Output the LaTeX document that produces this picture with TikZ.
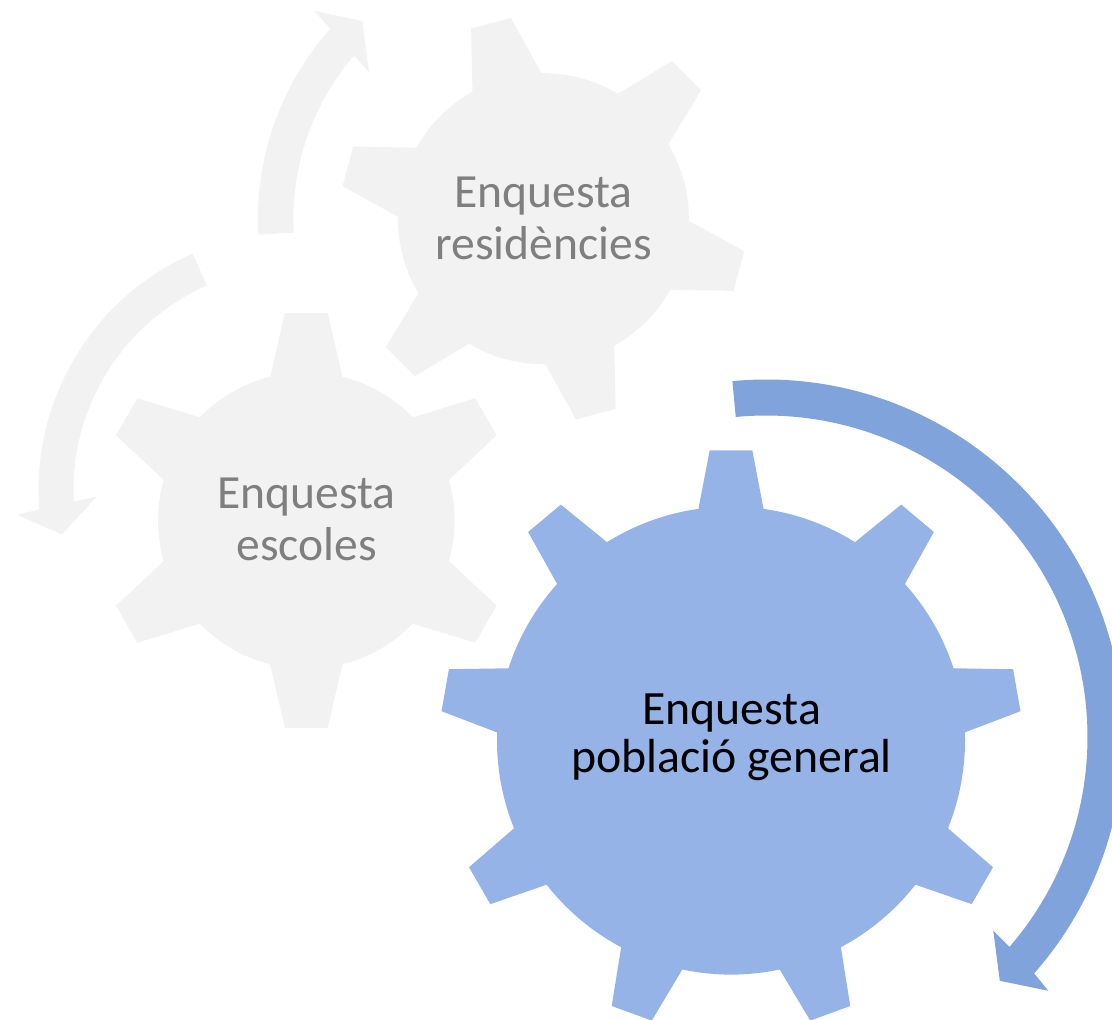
\documentclass[tikz,border=0pt]{standalone}
\usepackage{fontspec}
\setmainfont{Carlito}
\definecolor{gearblue}{HTML}{95B3E7}
\definecolor{arrowblue}{HTML}{7FA3DA}
\definecolor{lightgrey}{HTML}{F2F2F2}
\definecolor{textgrey}{HTML}{7F7F7F}
% #1 fill style, #2 centre name, #3 teeth, #4 first tooth angle,
% #5 body radius, #6 base half-angle, #7 tip radius, #8 tip half-angle
\newcommand\drawgear[8]{%
  \pgfmathsetmacro\gstep{360/#3}%
  \pgfmathtruncatemacro\glast{#3-1}%
  \fill[#1, shift={(#2)}] ({#4-#6}:#5)
    \foreach \i in {0,...,\glast}{
      -- ({#4+\i*\gstep-#8}:#7) -- ({#4+\i*\gstep+#8}:#7) -- ({#4+\i*\gstep+#6}:#5)
      arc[start angle={#4+\i*\gstep+#6}, end angle={#4+(\i+1)*\gstep-#6}, radius=#5]
    } -- cycle;%
}
\begin{document}
\begin{tikzpicture}[x=1pt,y=1pt,
  gtext/.style={font=\fontsize{47.6}{52.3}\selectfont, text=textgrey, align=center, inner sep=0pt, anchor=base},
  btext/.style={font=\fontsize{47.8}{48.3}\selectfont, text=black, align=center, inner sep=0pt, anchor=base}]
\useasboundingbox (0,0) rectangle (1112,-1020);
\clip (0,0) rectangle (1112,-1020);
\coordinate (gE) at (306.3,-520.5);
\coordinate (gR) at (543.4,-218.7);
\coordinate (gB) at (731,-740.6);
\coordinate (aB) at (766,-737);
\coordinate (aE) at (297,-490);

% grey circular arrows
\fill[lightgrey, shift={(gR)}] (183.2:285.5) arc[start angle=183.2, end angle=138.3, radius=285.5]
  -- (137.8:309.7) -- (132.5:268.1) -- (139.9:228.1) -- (139.3:250)
  arc[start angle=139.3, end angle=183.2, radius=250] -- cycle;
\fill[lightgrey, shift={(aE)}] (113.8:258.5) arc[start angle=113.8, end angle=184.3, radius=258.5]
  -- (185.1:280.8) -- (190.7:239.4) -- (181.9:200.4) -- (183.0:223.5)
  arc[start angle=183.0, end angle=113.8, radius=223.5] -- cycle;

% gears
\drawgear{lightgrey}{gR}{6}{105}{145.5}{14.2}{203.4}{5.8}
\drawgear{lightgrey}{gE}{6}{90}{148.3}{14.1}{208.5}{5.9}
\drawgear{gearblue}{gB}{9}{90}{234}{8.0}{291}{4.2}

% blue circular arrow
\fill[arrowblue, shift={(aB)}] (95.4:357.5) arc[start angle=95.4, end angle=-41.4, radius=357.5]
  -- (-41.95:379.6) -- (-46.2:337.8) -- (-40.43:298.6) -- (-40.76:321.5)
  arc[start angle=-40.76, end angle=95.4, radius=321.5] -- cycle;

% texts (base anchor = baseline of the last line)
\node[gtext] (tR) at (543.5,-259.3) {Enquesta\\residències};
\node[gtext] (tE) at (306.6,-560.6) {Enquesta\\escoles};
\node[btext] (tB) at (731.5,-772.7) {Enquesta\\població general};
\end{tikzpicture}
\end{document}
